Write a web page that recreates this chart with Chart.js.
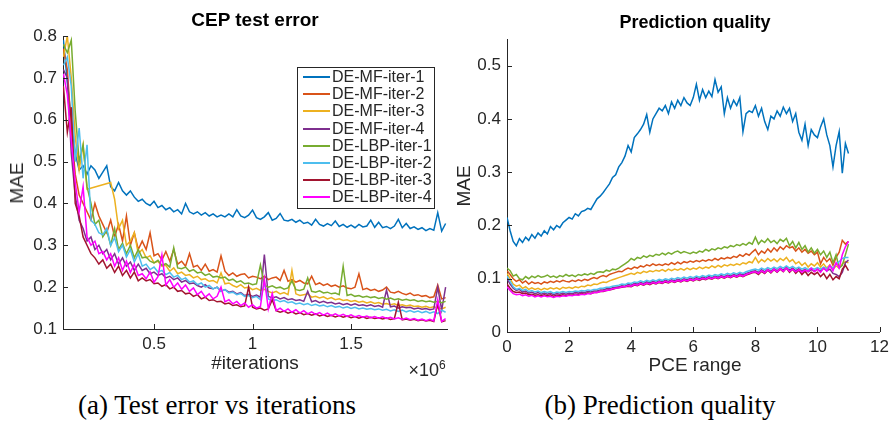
<!DOCTYPE html>
<html>
<head>
<meta charset="utf-8">
<script src="https://cdn.jsdelivr.net/npm/chart.js@4.4.1/dist/chart.umd.min.js"></script>
<style>
body { margin: 0; background: #fff; width: 894px; height: 421px; position: relative; overflow: hidden;
       font-family: "Liberation Sans", Arial, sans-serif; color: #262626; }
canvas { position: absolute; top: 0; }
#cvA { left: 0; }
#cvB { left: 450px; }
.t { position: absolute; white-space: nowrap; transform: translate(-50%, -50%); }
.ttl { font-weight: bold; color: #000; }
.rot { transform: translate(-50%, -50%) rotate(-90deg); }
.cap { font-family: "Liberation Serif", "Times New Roman", serif; font-size: 27px; color: #000; }
#legend { position: absolute; left: 297px; top: 67px; width: 136px; height: 140px; border: 1px solid #262626;
          background: #fff; font-size: 16px; }
#legend div { position: relative; height: 17.2px; line-height: 17.2px; padding-left: 34px; }
#legend span { position: absolute; left: 5px; top: 8px; width: 27px; height: 2px; }
</style>
</head>
<body>
<canvas id="cvA" width="450" height="365"></canvas>
<canvas id="cvB" width="444" height="365"></canvas>

<div class="t ttl" style="left:255px;top:20px;font-size:19px">CEP test error</div>
<div class="t ttl" style="left:695px;top:22px;font-size:18px">Prediction quality</div>
<div class="t rot" style="left:17px;top:183px;font-size:19px">MAE</div>
<div class="t rot" style="left:464px;top:186px;font-size:19px">MAE</div>
<div class="t" style="left:255px;top:363px;font-size:19px">#iterations</div>
<div class="t" style="left:427px;top:369px;font-size:18px">&times;10<sup style="font-size:12px">6</sup></div>
<div class="t" style="left:695px;top:365px;font-size:19px">PCE range</div>
<div class="t cap" style="left:217px;top:405px">(a) Test error vs iterations</div>
<div class="t cap" style="left:660px;top:405px">(b) Prediction quality</div>
<div id="legend"></div>

<script>
const seriesNames = ['DE-MF-iter-1', 'DE-MF-iter-2', 'DE-MF-iter-3', 'DE-MF-iter-4',
                     'DE-LBP-iter-1', 'DE-LBP-iter-2', 'DE-LBP-iter-3', 'DE-LBP-iter-4']
const seriesColors = ['#0072BD', '#D95319', '#EDB120', '#7E2F8E', '#77AC30', '#4DBEEE', '#A2142F', '#FF00FF']

// left panel: iterations (x 1e6)
const iterM = [0.04,0.06,0.08,0.10,0.12,0.14,0.16,0.18,0.20,0.22,
  0.24,0.26,0.28,0.30,0.32,0.34,0.36,0.38,0.40,0.42,
  0.44,0.46,0.48,0.50,0.52,0.54,0.56,0.58,0.60,0.62,
  0.64,0.66,0.68,0.70,0.72,0.74,0.76,0.78,0.80,0.82,
  0.84,0.86,0.88,0.90,0.92,0.94,0.96,0.98,1.00,1.02,
  1.04,1.06,1.08,1.10,1.12,1.14,1.16,1.18,1.20,1.22,
  1.24,1.26,1.28,1.30,1.32,1.34,1.36,1.38,1.40,1.42,
  1.44,1.46,1.48,1.50,1.52,1.54,1.56,1.58,1.60,1.62,
  1.64,1.66,1.68,1.70,1.72,1.74,1.76,1.78,1.80,1.82,
  1.84,1.86,1.88,1.90,1.92,1.94,1.96,1.98]

const iterMF1 = [.79,.69,.60,.52,.48,.49,.47,.49,.48,.46,
  .475,.49,.44,.43,.45,.43,.42,.43,.415,.405,
  .41,.40,.395,.405,.39,.395,.385,.39,.38,.385,
  .375,.40,.38,.375,.38,.372,.378,.37,.375,.368,
  .372,.368,.375,.368,.385,.37,.366,.372,.384,.366,
  .362,.368,.378,.36,.364,.376,.36,.358,.362,.355,
  .36,.352,.355,.348,.362,.35,.346,.352,.347,.358,
  .345,.35,.343,.348,.342,.35,.344,.346,.36,.343,
  .355,.342,.345,.34,.346,.362,.342,.352,.34,.344,
  .338,.342,.335,.34,.336,.378,.334,.352]
const iterMF2 = [.77,.72,.58,.47,.42,.40,.38,.36,.40,.37,
  .35,.33,.36,.32,.35,.31,.37,.30,.33,.29,
  .31,.29,.33,.275,.28,.265,.285,.262,.29,.255,
  .262,.25,.28,.248,.252,.24,.255,.238,.242,.236,
  .275,.238,.228,.234,.226,.23,.232,.222,.226,.224,
  .22,.226,.218,.222,.224,.216,.24,.214,.218,.212,
  .216,.21,.208,.226,.206,.21,.204,.208,.202,.205,
  .20,.203,.198,.196,.20,.232,.194,.197,.192,.195,
  .19,.193,.20,.188,.186,.19,.185,.182,.186,.18,
  .182,.178,.18,.175,.177,.205,.172,.175]
const iterMF3 = [.75,.80,.70,.56,.48,.54,.434,null,null,null,
  null,null,.45,.41,.34,.36,.30,.31,.33,.28,
  .29,.27,.275,.258,.262,.25,.252,.238,.246,.232,
  .236,.228,.23,.222,.226,.218,.22,.214,.216,.21,
  .234,.208,.21,.204,.20,.206,.198,.20,.194,.197,
  .192,.195,.19,.186,.19,.184,.187,.182,.24,.184,
  .18,.182,.184,.176,.178,.174,.177,.172,.175,.17,
  .172,.168,.17,.166,.168,.164,.166,.162,.165,.161,
  .163,.159,.161,.158,.16,.156,.158,.155,.157,.154,
  .155,.152,.154,.151,.153,.15,.148,.152]
const iterMF4 = [.72,.70,.52,.42,.36,.34,.31,.32,.29,.30,
  .28,.29,.265,.28,.255,.27,.25,.26,.24,.255,
  .24,.245,.232,.236,.228,.232,.222,.226,.218,.222,
  .212,.216,.208,.21,.204,.20,.206,.198,.196,.20,
  .19,.194,.188,.19,.184,.187,.18,.183,.178,.181,
  .176,.278,.178,.174,.177,.172,.175,.17,.172,.168,
  .17,.166,.19,.165,.168,.163,.166,.162,.164,.16,
  .162,.158,.161,.157,.16,.156,.158,.155,.158,.154,
  .156,.152,.193,.153,.155,.15,.153,.151,.152,.148,
  .15,.147,.149,.146,.148,.20,.145,.20]
const iterLBP1 = [.78,.76,.79,.62,.50,.54,.44,.40,.35,.36,
  .32,.335,.30,.34,.29,.305,.28,.30,.27,.29,
  .27,.272,.262,.258,.264,.252,.256,.248,.294,.246,
  .244,.248,.238,.242,.234,.236,.228,.232,.224,.226,
  .222,.224,.216,.219,.212,.215,.208,.21,.206,.208,
  .253,.205,.20,.203,.198,.20,.195,.198,.215,.194,
  .192,.195,.222,.19,.188,.191,.186,.188,.184,.186,
  .182,.25,.18,.183,.178,.18,.176,.178,.175,.177,
  .173,.175,.171,.174,.17,.172,.169,.171,.168,.17,
  .166,.168,.165,.167,.164,.166,.163,.166]
const iterLBP2 = [.73,.75,.68,.50,.58,.46,.54,.36,.35,.33,
  .325,.34,.30,.318,.285,.30,.272,.29,.26,.28,
  .25,.255,.242,.248,.236,.24,.23,.235,.224,.228,
  .218,.222,.212,.215,.206,.21,.20,.204,.196,.20,
  .19,.194,.186,.188,.182,.185,.178,.18,.175,.178,
  .17,.21,.172,.168,.17,.165,.168,.163,.165,.16,
  .162,.158,.161,.156,.159,.155,.157,.153,.156,.152,
  .154,.15,.153,.149,.152,.148,.15,.147,.149,.146,
  .148,.145,.147,.143,.146,.142,.145,.141,.144,.14,
  .143,.139,.142,.138,.141,.137,.145,.14]
const iterLBP3 = [.68,.57,.63,.40,.37,.32,.30,.28,.27,.255,
  .265,.245,.255,.235,.25,.228,.24,.222,.236,.215,
  .222,.215,.218,.208,.21,.202,.206,.196,.20,.19,
  .192,.184,.186,.178,.182,.172,.176,.168,.17,.165,
  .166,.16,.162,.156,.158,.153,.155,.20,.152,.148,
  .15,.145,.148,.17,.144,.14,.143,.138,.141,.136,
  .139,.134,.137,.133,.136,.131,.134,.13,.133,.129,
  .132,.128,.131,.127,.13,.126,.129,.125,.128,.125,
  .127,.124,.126,.123,.125,.164,.122,.124,.121,.123,
  .12,.122,.119,.121,.118,.16,.117,.12]
const iterLBP4 = [.71,.66,.55,.45,.38,.44,.32,.30,.31,.28,
  .285,.265,.28,.25,.27,.24,.262,.235,.255,.228,
  .232,.22,.236,.212,.225,.277,.205,.218,.20,.21,
  .195,.205,.19,.198,.182,.19,.176,.184,.172,.178,
  .20,.165,.17,.16,.166,.156,.162,.152,.158,.15,
  .154,.22,.148,.185,.144,.15,.142,.148,.14,.146,
  .138,.144,.136,.141,.135,.139,.133,.138,.132,.136,
  .131,.135,.13,.134,.129,.132,.128,.131,.127,.13,
  .126,.129,.125,.128,.124,.127,.123,.126,.122,.125,
  .121,.124,.12,.123,.119,.17,.118,.125]

// right panel: PCE range
const pceRange = [0.0,0.1,0.2,0.3,0.4,0.5,0.6,0.7,0.8,0.9,
  1.0,1.1,1.2,1.3,1.4,1.5,1.6,1.7,1.8,1.9,
  2.0,2.1,2.2,2.3,2.4,2.5,2.6,2.7,2.8,2.9,
  3.0,3.1,3.2,3.3,3.4,3.5,3.6,3.7,3.8,3.9,
  4.0,4.1,4.2,4.3,4.4,4.5,4.6,4.7,4.8,4.9,
  5.0,5.1,5.2,5.3,5.4,5.5,5.6,5.7,5.8,5.9,
  6.0,6.1,6.2,6.3,6.4,6.5,6.6,6.7,6.8,6.9,
  7.0,7.1,7.2,7.3,7.4,7.5,7.6,7.7,7.8,7.9,
  8.0,8.1,8.2,8.3,8.4,8.5,8.6,8.7,8.8,8.9,
  9.0,9.1,9.2,9.3,9.4,9.5,9.6,9.7,9.8,9.9,
  10.0,10.1,10.2,10.3,10.4,10.5,10.6,10.7,10.8,10.9,
  11.0]

const pceMF1 = [.215,.19,.17,.162,.175,.168,.178,.172,.183,.176,
  .186,.18,.19,.184,.198,.192,.20,.196,.205,.21,
  .215,.212,.222,.218,.226,.228,.232,.23,.24,.25,
  .255,.262,.27,.278,.29,.295,.31,.318,.33,.35,
  .338,.365,.372,.38,.39,.408,.375,.40,.41,.42,
  .415,.425,.41,.432,.42,.435,.425,.44,.43,.425,
  .44,.465,.435,.455,.44,.452,.442,.474,.45,.46,
  .41,.44,.42,.435,.425,.44,.376,.41,.415,.412,
  .425,.405,.42,.395,.38,.405,.40,.415,.405,.422,
  .41,.42,.395,.41,.375,.36,.39,.35,.38,.37,
  .365,.385,.40,.37,.35,.31,.35,.376,.298,.354,
  .335]
const pceMF2 = [.115,.108,.10,.095,.098,.092,.096,.09,.094,.091,
  .093,.09,.094,.092,.095,.093,.096,.094,.097,.095,
  .094,.097,.095,.098,.096,.099,.097,.10,.102,.10,
  .104,.106,.104,.108,.11,.112,.114,.113,.117,.12,
  .118,.122,.12,.124,.122,.126,.124,.128,.125,.127,
  .125,.128,.126,.13,.127,.131,.128,.132,.13,.133,
  .131,.134,.132,.135,.133,.136,.134,.138,.135,.139,
  .137,.14,.138,.142,.14,.145,.142,.147,.144,.15,
  .155,.145,.152,.148,.156,.15,.158,.152,.16,.155,
  .162,.158,.16,.152,.158,.15,.155,.148,.152,.145,
  .15,.128,.14,.132,.138,.125,.14,.15,.172,.165,
  .17]
const pceMF3 = [.11,.10,.09,.086,.088,.082,.085,.08,.083,.08,
  .082,.079,.082,.08,.083,.081,.083,.08,.084,.082,
  .084,.082,.085,.083,.086,.085,.088,.087,.09,.089,
  .092,.094,.093,.096,.098,.10,.102,.104,.106,.108,
  .11,.108,.112,.11,.114,.112,.115,.113,.116,.114,
  .117,.114,.118,.115,.118,.116,.119,.116,.12,.117,
  .12,.118,.122,.119,.122,.12,.124,.121,.125,.122,
  .126,.124,.127,.125,.128,.126,.13,.128,.132,.13,
  .14,.13,.136,.132,.138,.133,.137,.132,.138,.134,
  .14,.132,.136,.128,.132,.125,.13,.122,.128,.124,
  .13,.122,.128,.12,.126,.118,.124,.12,.128,.132,
  .13]
const pceMF4 = [.10,.09,.082,.078,.08,.075,.077,.073,.075,.072,
  .074,.071,.073,.071,.073,.07,.072,.071,.073,.071,
  .073,.072,.074,.073,.075,.074,.076,.075,.077,.077,
  .079,.079,.081,.081,.083,.084,.085,.087,.086,.089,
  .088,.091,.09,.093,.091,.094,.092,.095,.093,.096,
  .094,.097,.095,.098,.096,.099,.097,.10,.098,.101,
  .099,.102,.10,.103,.101,.104,.102,.105,.103,.106,
  .104,.107,.105,.108,.106,.109,.107,.11,.112,.114,
  .115,.112,.117,.113,.118,.114,.119,.115,.12,.116,
  .121,.116,.12,.115,.119,.114,.118,.113,.117,.114,
  .118,.114,.12,.115,.118,.11,.108,.104,.112,.13,
  .135]
const pceLBP1 = [.12,.115,.105,.108,.10,.098,.104,.10,.105,.102,
  .106,.103,.104,.107,.103,.105,.102,.106,.104,.108,
  .105,.107,.104,.108,.106,.109,.107,.11,.108,.112,
  .113,.112,.116,.114,.118,.117,.12,.124,.128,.132,
  .138,.135,.14,.138,.143,.14,.144,.142,.146,.144,
  .148,.145,.149,.146,.15,.152,.148,.151,.149,.147,
  .15,.148,.152,.15,.155,.152,.156,.154,.158,.156,
  .16,.158,.162,.16,.164,.162,.166,.163,.168,.165,
  .178,.165,.172,.168,.175,.168,.172,.166,.174,.17,
  .176,.162,.17,.158,.168,.155,.162,.15,.158,.148,
  .155,.145,.152,.14,.15,.13,.145,.12,.125,.145,
  .165]
const pceLBP2 = [.105,.095,.085,.08,.082,.078,.08,.076,.078,.075,
  .077,.074,.076,.074,.076,.073,.075,.074,.076,.074,
  .076,.075,.077,.076,.078,.077,.079,.078,.08,.08,
  .082,.082,.084,.084,.086,.087,.088,.09,.089,.092,
  .091,.094,.093,.096,.094,.097,.095,.098,.096,.099,
  .097,.10,.098,.101,.099,.102,.10,.103,.101,.104,
  .102,.105,.103,.106,.104,.107,.105,.108,.106,.109,
  .107,.11,.108,.111,.109,.112,.11,.113,.115,.117,
  .118,.116,.12,.117,.121,.118,.122,.119,.123,.12,
  .124,.12,.123,.119,.122,.118,.121,.117,.12,.118,
  .121,.118,.122,.119,.124,.12,.128,.132,.138,.14,
  .14]
const pceLBP3 = [.09,.082,.076,.074,.075,.072,.073,.07,.071,.069,
  .07,.068,.07,.068,.07,.067,.069,.068,.07,.068,
  .07,.069,.071,.07,.072,.071,.073,.072,.074,.074,
  .076,.076,.078,.079,.08,.082,.083,.084,.085,.086,
  .085,.088,.087,.09,.088,.091,.089,.092,.09,.093,
  .091,.094,.092,.095,.093,.096,.094,.097,.095,.098,
  .096,.099,.097,.10,.098,.101,.099,.102,.10,.103,
  .101,.104,.102,.105,.103,.106,.104,.107,.109,.111,
  .112,.108,.114,.11,.116,.111,.117,.112,.118,.113,
  .12,.112,.118,.11,.116,.108,.114,.106,.112,.108,
  .112,.104,.11,.10,.108,.098,.104,.10,.118,.125,
  .115]
const pceLBP4 = [.085,.078,.072,.07,.071,.068,.07,.067,.069,.066,
  .068,.066,.068,.066,.067,.065,.067,.066,.068,.067,
  .069,.068,.07,.069,.071,.07,.072,.072,.074,.074,
  .076,.077,.078,.079,.081,.082,.083,.085,.085,.087,
  .086,.089,.088,.091,.089,.092,.09,.093,.091,.094,
  .092,.095,.093,.096,.094,.097,.095,.098,.096,.099,
  .097,.10,.098,.101,.099,.102,.10,.103,.101,.104,
  .102,.105,.103,.106,.104,.107,.105,.108,.11,.112,
  .113,.11,.115,.111,.117,.112,.118,.113,.119,.114,
  .12,.114,.118,.113,.117,.112,.116,.114,.12,.113,
  .118,.112,.12,.114,.125,.115,.13,.12,.145,.16,
  .17]

const xTicksA = [0.5, 1, 1.5]
const yTicksA = [0.1, 0.2, 0.3, 0.4, 0.5, 0.6, 0.7, 0.8]
const xTicksB = [0, 2, 4, 6, 8, 10, 12]
const yTicksB = [0, 0.1, 0.2, 0.3, 0.4, 0.5]

const axisColor = '#262626'

function pairs(xs, ys) {
    return xs.map((x, i) => ({x: x, y: ys[i]}))
}

function makeDatasets(xs, list) {
    return list.map((ys, i) => ({
        label: seriesNames[i],
        data: pairs(xs, ys),
        borderColor: seriesColors[i],
        borderWidth: 1.5,
        pointRadius: 0,
        tension: 0,
        fill: false,
        spanGaps: true,
        order: list.length - i   // later series drawn on top, like matlab
    }))
}

// matlab style inward tick marks
const inTicks = {
    id: 'inTicks',
    afterDraw(chart) {
        const {ctx, chartArea: a, scales: {x, y}} = chart
        ctx.save()
        ctx.strokeStyle = axisColor
        ctx.lineWidth = 1
        ctx.beginPath()
        x.ticks.forEach(t => {
            const px = Math.round(x.getPixelForValue(t.value)) + 0.5
            ctx.moveTo(px, a.bottom)
            ctx.lineTo(px, a.bottom - 5)
        })
        y.ticks.forEach(t => {
            const py = Math.round(y.getPixelForValue(t.value)) + 0.5
            ctx.moveTo(a.left, py)
            ctx.lineTo(a.left + 5, py)
        })
        ctx.stroke()
        ctx.restore()
    }
}

function axis(min, max, ticks, size, horiz) {
    return {
        type: 'linear',
        min: min,
        max: max,
        bounds: 'data',
        afterBuildTicks: s => { s.ticks = ticks.map(v => ({value: v})) },
        afterFit: s => { if (horiz) s.height = size; else s.width = size },
        grid: {display: false, drawTicks: false},
        border: {display: true, color: axisColor, width: 1},
        ticks: {
            color: axisColor,
            font: {family: '"Liberation Sans", Arial, sans-serif', size: 17},
            padding: horiz ? 5 : 6,
            maxRotation: 0,
            autoSkip: false,
            callback: v => String(v)
        }
    }
}

function renderChart(el, datasets, scales, padding) {
    return new Chart(document.getElementById(el), {
        type: 'line',
        data: {datasets: datasets},
        options: {
            responsive: false,
            animation: false,
            layout: {padding: padding},
            plugins: {legend: {display: false}, tooltip: {enabled: false}},
            scales: scales
        },
        plugins: [inTicks]
    })
}

renderChart('cvA',
    makeDatasets(iterM, [iterMF1, iterMF2, iterMF3, iterMF4, iterLBP1, iterLBP2, iterLBP3, iterLBP4]),
    {x: axis(0.038, 1.987, xTicksA, 365 - 329, true), y: axis(0.1, 0.8, yTicksA, 63, false)},
    {top: 36, right: 3, left: 0, bottom: 0})

renderChart('cvB',
    makeDatasets(pceRange, [pceMF1, pceMF2, pceMF3, pceMF4, pceLBP1, pceLBP2, pceLBP3, pceLBP4]),
    {x: axis(0, 12, xTicksB, 365 - 332, true), y: axis(0, 0.55, yTicksB, 57, false)},
    {top: 39, right: 9, left: 0, bottom: 0})

// legend box inside the left panel
const legendEl = document.getElementById('legend')
seriesNames.forEach((name, i) => {
    const row = document.createElement('div')
    row.innerHTML = `<span style="background:${seriesColors[i]}"></span>${name}`
    legendEl.appendChild(row)
})
</script>
</body>
</html>
